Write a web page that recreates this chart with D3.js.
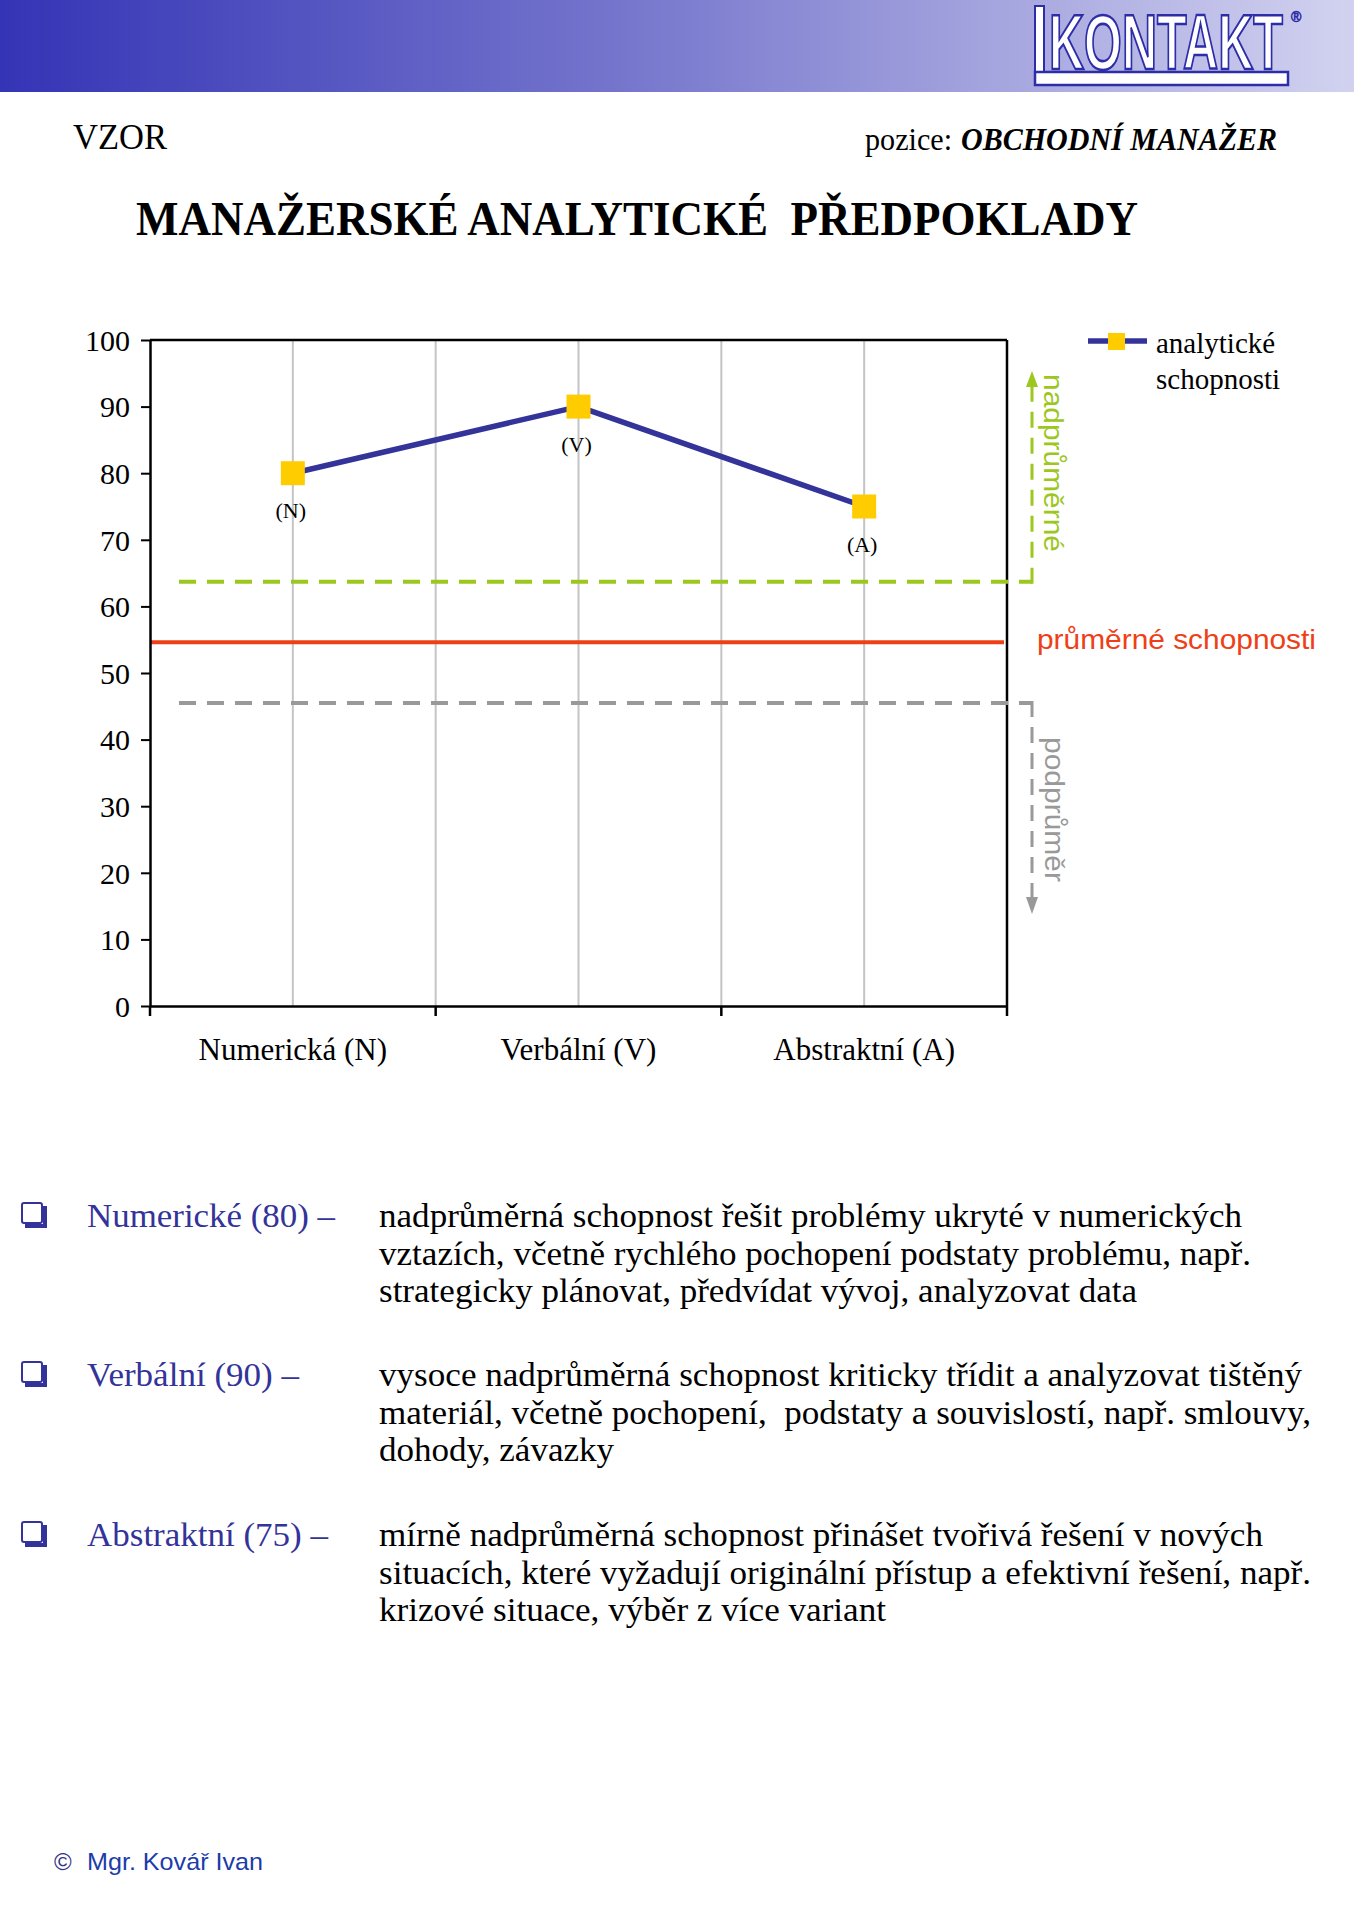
<!DOCTYPE html>
<html><head><meta charset="utf-8">
<script src="https://cdn.jsdelivr.net/npm/d3@7"></script>
<style>body{margin:0;background:#fff}svg{display:block}text{white-space:pre}</style>
</head><body>
<svg id="c" width="1354" height="1920"></svg>
<script>
// ---------- data ----------
const categories = ["Numerická (N)", "Verbální (V)", "Abstraktní (A)"];
const values = [80, 90, 75];
const pointLabels = ["(N)", "(V)", "(A)"];
const yTickValues = [0, 10, 20, 30, 40, 50, 60, 70, 80, 90, 100];
const legendLines = ["analytické", "schopnosti"];
const aboveAvgLevel = 63.7;
const avgLevel = 54.6;
const belowAvgLevel = 45.5;
const aboveAvgLabel = "nadprůměrné";
const avgLabel = "průměrné schopnosti";
const belowAvgLabel = "podprůměr";
const itemLabels = ["Numerické (80) –", "Verbální (90) –", "Abstraktní (75) –"];
const itemTexts = [
  ["nadprůměrná schopnost řešit problémy ukryté v numerických",
   "vztazích, včetně rychlého pochopení podstaty problému, např.",
   "strategicky plánovat, předvídat vývoj, analyzovat data"],
  ["vysoce nadprůměrná schopnost kriticky třídit a analyzovat tištěný",
   "materiál, včetně pochopení,  podstaty a souvislostí, např. smlouvy,",
   "dohody, závazky"],
  ["mírně nadprůměrná schopnost přinášet tvořivá řešení v nových",
   "situacích, které vyžadují originální přístup a efektivní řešení, např.",
   "krizové situace, výběr z více variant"]
];
const headerLeft = "VZOR";
const positionPrefix = "pozice:";
const positionName = "OBCHODNÍ MANAŽER";
const title = "MANAŽERSKÉ ANALYTICKÉ  PŘEDPOKLADY";
const logoText = "KONTAKT";
const footer = "Mgr. Kovář Ivan";

// ---------- layout ----------
const SERIF = "'Liberation Serif','Times New Roman',serif";
const SANS = "'Liberation Sans',Arial,sans-serif";
const L = {
  plotL: 150, plotR: 1007, plotT: 340, plotB: 1006,
  bodyX: 379, labelX: 87, blockY: [1227, 1386, 1546], lineH: 37.5,
  bodyW: [[863, 872, 758], [923, 932, 235], [884, 932, 507]],
  labelW: [248, 212, 241]
};
const svg = d3.select("#c");
svg.append("rect").attr("width", 1354).attr("height", 1920).attr("fill", "#fff");

// ---------- header band ----------
const defs = svg.append("defs");
const g1 = defs.append("linearGradient").attr("id", "hdr").attr("x1", 0).attr("x2", 1).attr("y1", 0).attr("y2", 0);
g1.append("stop").attr("offset", "0%").attr("stop-color", "#3434b6");
g1.append("stop").attr("offset", "45%").attr("stop-color", "#7474cc");
g1.append("stop").attr("offset", "100%").attr("stop-color", "#d2d2f0");
svg.append("rect").attr("x", 0).attr("y", 0).attr("width", 1354).attr("height", 92).attr("fill", "url(#hdr)");

// logo
const logo = svg.append("g");
logo.append("rect").attr("x", 1035).attr("y", 6).attr("width", 9).attr("height", 72)
  .attr("fill", "#fff").attr("stroke", "#2d2da8").attr("stroke-width", 2);
logo.append("rect").attr("x", 1035).attr("y", 72).attr("width", 253).attr("height", 13)
  .attr("fill", "#fff").attr("stroke", "#2d2da8").attr("stroke-width", 2.5);
logo.append("text").attr("transform", "translate(1049,69) scale(1,1.62)").attr("font-family", SANS)
  .attr("font-weight", "bold").attr("font-size", 48).attr("textLength", 234).attr("lengthAdjust", "spacingAndGlyphs")
  .attr("fill", "#fff").attr("stroke", "#2d2da8").attr("stroke-width", 1.6).text(logoText);
logo.append("text").attr("x", 1291).attr("y", 22).attr("font-family", SANS).attr("font-size", 14)
  .attr("fill", "#fff").attr("stroke", "#2d2da8").attr("stroke-width", 0.8).text("®");

// ---------- headings ----------
svg.append("text").attr("x", 73).attr("y", 149).attr("font-family", SERIF).attr("font-size", 35)
  .attr("textLength", 94).attr("lengthAdjust", "spacingAndGlyphs").attr("fill", "#000").text(headerLeft);
svg.append("text").attr("x", 865).attr("y", 150).attr("font-family", SERIF).attr("font-size", 32)
  .attr("textLength", 87).attr("lengthAdjust", "spacingAndGlyphs").text(positionPrefix);
svg.append("text").attr("x", 961).attr("y", 150).attr("font-family", SERIF).attr("font-size", 32)
  .attr("font-weight", "bold").attr("font-style", "italic")
  .attr("textLength", 316).attr("lengthAdjust", "spacingAndGlyphs").text(positionName);
svg.append("text").attr("x", 136).attr("y", 235).attr("font-family", SERIF).attr("font-size", 48)
  .attr("font-weight", "bold").attr("textLength", 1002).attr("lengthAdjust", "spacingAndGlyphs").text(title);

// ---------- scales ----------
const x = d3.scaleBand().domain(categories).range([L.plotL, L.plotR]).padding(0);
const y = d3.scaleLinear().domain([0, 100]).range([L.plotB, L.plotT]);
const cx = c => x(c) + x.bandwidth() / 2;
const chart = svg.append("g");

// gridlines (centers and band boundaries)
const gridXs = categories.map(cx).concat(categories.slice(1).map(c => x(c)));
chart.selectAll("line.grid").data(gridXs).join("line").attr("class", "grid")
  .attr("x1", d => d).attr("x2", d => d).attr("y1", y(100)).attr("y2", y(0))
  .attr("stroke", "#c4c4c4").attr("stroke-width", 2);

// frame top & right
chart.append("line").attr("x1", L.plotL).attr("x2", L.plotR).attr("y1", y(100)).attr("y2", y(100))
  .attr("stroke", "#000").attr("stroke-width", 2.5);
chart.append("line").attr("x1", L.plotR).attr("x2", L.plotR).attr("y1", y(100)).attr("y2", y(0))
  .attr("stroke", "#000").attr("stroke-width", 2.5);

// reference lines
const green = "#9cc71e", gray = "#999999", red = "#ee4016";
const dashX0 = 179, dashX1 = 1032;
chart.append("line").attr("x1", dashX0).attr("x2", dashX1).attr("y1", y(aboveAvgLevel)).attr("y2", y(aboveAvgLevel))
  .attr("stroke", green).attr("stroke-width", 4).attr("stroke-dasharray", "17,11");
chart.append("line").attr("x1", dashX0).attr("x2", dashX1).attr("y1", y(belowAvgLevel)).attr("y2", y(belowAvgLevel))
  .attr("stroke", gray).attr("stroke-width", 4).attr("stroke-dasharray", "17,11");
chart.append("line").attr("x1", L.plotL).attr("x2", L.plotR - 3).attr("y1", y(avgLevel)).attr("y2", y(avgLevel))
  .attr("stroke", red).attr("stroke-width", 4);

// vertical arrows
chart.append("line").attr("x1", dashX1).attr("x2", dashX1).attr("y1", y(aboveAvgLevel) + 2).attr("y2", 384)
  .attr("stroke", green).attr("stroke-width", 3).attr("stroke-dasharray", "16,10");
chart.append("path").attr("d", `M${dashX1 - 6},387 L${dashX1},371 L${dashX1 + 6},387 Z`).attr("fill", green);
chart.append("line").attr("x1", dashX1).attr("x2", dashX1).attr("y1", y(belowAvgLevel) - 2).attr("y2", 900)
  .attr("stroke", gray).attr("stroke-width", 3).attr("stroke-dasharray", "16,10");
chart.append("path").attr("d", `M${dashX1 - 6},897 L${dashX1},914 L${dashX1 + 6},897 Z`).attr("fill", gray);

chart.append("text").attr("transform", `translate(1044,374) rotate(90)`).attr("font-family", SANS)
  .attr("font-size", 28).attr("fill", green).attr("textLength", 178).attr("lengthAdjust", "spacingAndGlyphs").text(aboveAvgLabel);
chart.append("text").attr("transform", `translate(1045,737) rotate(90)`).attr("font-family", SANS)
  .attr("font-size", 28).attr("fill", gray).attr("textLength", 145).attr("lengthAdjust", "spacingAndGlyphs").text(belowAvgLabel);
chart.append("text").attr("x", 1037).attr("y", 649).attr("font-family", SANS).attr("font-size", 28)
  .attr("fill", red).attr("textLength", 279).attr("lengthAdjust", "spacingAndGlyphs").text(avgLabel);

// axes
const yAxis = d3.axisLeft(y).tickValues(yTickValues).tickSize(9).tickPadding(11).tickSizeOuter(0);
const gy = chart.append("g").attr("transform", `translate(${L.plotL},0)`).call(yAxis);
gy.select(".domain").attr("stroke", "#000").attr("stroke-width", 2.5);
gy.selectAll(".tick line").attr("stroke", "#000").attr("stroke-width", 2);
gy.selectAll(".tick text").attr("font-family", SERIF).attr("font-size", 30).attr("fill", "#000").attr("dy", "0.34em");

const xAxis = d3.axisBottom(x).tickSize(0).tickPadding(54).tickSizeOuter(0);
const gx = chart.append("g").attr("transform", `translate(0,${L.plotB})`).call(xAxis);
gx.select(".domain").attr("stroke", "#000").attr("stroke-width", 2.5);
gx.selectAll(".tick text").attr("font-family", SERIF).attr("font-size", 31).attr("fill", "#000").attr("dy", "0");
// boundary tick marks
const bounds = [L.plotL].concat(categories.slice(1).map(c => x(c))).concat([L.plotR]);
chart.selectAll("line.xt").data(bounds).join("line").attr("class", "xt")
  .attr("x1", d => d).attr("x2", d => d).attr("y1", L.plotB).attr("y2", L.plotB + 10)
  .attr("stroke", "#000").attr("stroke-width", 2.5);

// series line & markers
const pts = categories.map((c, i) => [cx(c), y(values[i])]);
chart.append("path").attr("d", d3.line()(pts)).attr("fill", "none")
  .attr("stroke", "#333399").attr("stroke-width", 5.5).attr("stroke-linejoin", "round");
chart.selectAll("rect.mk").data(pts).join("rect").attr("class", "mk")
  .attr("x", d => d[0] - 12).attr("y", d => d[1] - 12).attr("width", 24).attr("height", 24).attr("fill", "#ffcc00");
chart.selectAll("text.pl").data(pts).join("text").attr("class", "pl")
  .attr("x", d => d[0] - 2).attr("y", d => d[1] + 45).attr("text-anchor", "middle")
  .attr("font-family", SERIF).attr("font-size", 22).attr("fill", "#000").text((d, i) => pointLabels[i]);

// legend
const lg = svg.append("g");
lg.append("line").attr("x1", 1088).attr("x2", 1147).attr("y1", 341).attr("y2", 341).attr("stroke", "#333399").attr("stroke-width", 5.5);
lg.append("rect").attr("x", 1108).attr("y", 333).attr("width", 17).attr("height", 17).attr("fill", "#ffcc00");
lg.selectAll("text").data(legendLines).join("text").attr("x", 1156).attr("y", (d, i) => 353 + i * 36)
  .attr("font-family", SERIF).attr("font-size", 29).attr("fill", "#000").text(d => d);

// ---------- descriptions ----------
const navy = "#333399";
itemLabels.forEach((lab, i) => {
  const by = L.blockY[i];
  // checkbox
  svg.append("path").attr("d", `M${25},${by - 1} L${45},${by - 1} L${45},${by - 21}`)
    .attr("fill", "none").attr("stroke", navy).attr("stroke-width", 4);
  svg.append("rect").attr("x", 22).attr("y", by - 24).attr("width", 20).attr("height", 20)
    .attr("rx", 2).attr("fill", "#fff").attr("stroke", navy).attr("stroke-width", 2);
  svg.append("text").attr("x", L.labelX).attr("y", by).attr("font-family", SERIF).attr("font-size", 33)
    .attr("fill", navy).attr("textLength", L.labelW[i]).attr("lengthAdjust", "spacingAndGlyphs").text(lab);
  itemTexts[i].forEach((t, j) => {
    svg.append("text").attr("x", L.bodyX).attr("y", by + j * L.lineH).attr("font-family", SERIF)
      .attr("font-size", 34).attr("fill", "#000").attr("textLength", L.bodyW[i][j])
      .attr("lengthAdjust", "spacingAndGlyphs").text(t);
  });
});

// footer
svg.append("text").attr("x", 54).attr("y", 1870).attr("font-family", SANS).attr("font-size", 24)
  .attr("fill", "#333388").text("©");
svg.append("text").attr("x", 87).attr("y", 1870).attr("font-family", SANS).attr("font-size", 24)
  .attr("fill", "#1c3caa").attr("textLength", 176).attr("lengthAdjust", "spacingAndGlyphs").text(footer);
</script>
</body></html>
